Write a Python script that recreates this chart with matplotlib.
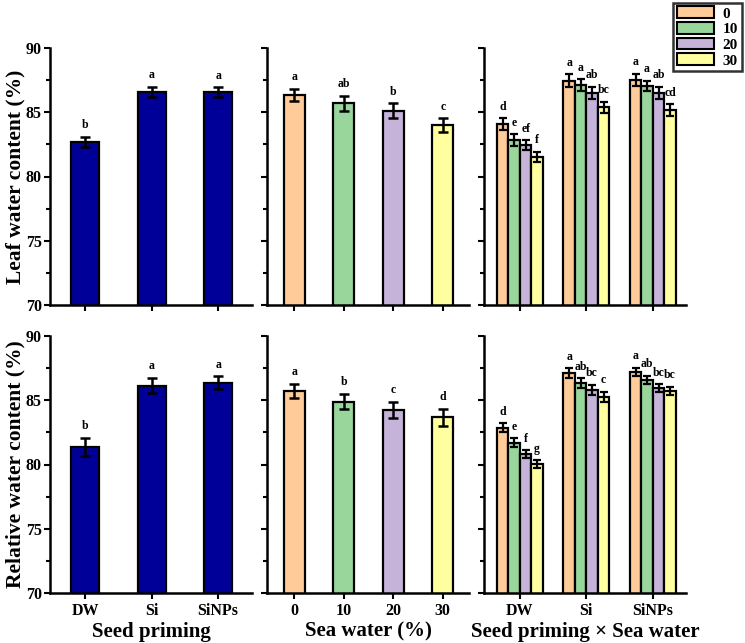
import matplotlib
matplotlib.use("Agg")
from matplotlib import pyplot as plt
from matplotlib.patches import Patch
import numpy as np

plt.rcParams['font.family'] = ['Liberation Serif', 'DejaVu Serif']
plt.rcParams['font.weight'] = 'bold'

priming = ["DW", "Si", "SiNPs"]
seawater = ["0", "10", "20", "30"]

# leaf water content
lwc_prim = [82.7, 86.6, 86.55]
lwc_prim_err = [0.39, 0.4, 0.38]
lwc_prim_let = ["b", "a", "a"]
lwc_sea = [86.34, 85.7, 85.12, 84.0]
lwc_sea_err = [0.48, 0.58, 0.58, 0.53]
lwc_sea_let = ["a", "ab", "b", "c"]
lwc_int = [[84.09, 82.84, 82.43, 81.54],
           [87.46, 87.12, 86.52, 85.38],
           [87.51, 87.04, 86.52, 85.17]]
lwc_int_err = [[0.45, 0.45, 0.4, 0.4],
               [0.48, 0.45, 0.45, 0.42],
               [0.48, 0.42, 0.45, 0.45]]
lwc_int_let = [["d", "e", "ef", "f"],
               ["a", "a", "ab", "bc"],
               ["a", "a", "ab", "cd"]]

# relative water content
rwc_prim = [81.39, 86.13, 86.37]
rwc_prim_err = [0.69, 0.6, 0.5]
rwc_prim_let = ["b", "a", "a"]
rwc_sea = [85.72, 84.89, 84.24, 83.67]
rwc_sea_err = [0.57, 0.6, 0.65, 0.66]
rwc_sea_let = ["a", "b", "c", "d"]
rwc_int = [[82.87, 81.7, 80.82, 80.01],
           [87.1, 86.32, 85.8, 85.28],
           [87.18, 86.58, 85.93, 85.72]]
rwc_int_err = [[0.34, 0.33, 0.3, 0.32],
               [0.39, 0.39, 0.39, 0.4],
               [0.33, 0.32, 0.32, 0.33]]
rwc_int_let = [["d", "e", "f", "g"],
               ["a", "ab", "bc", "c"],
               ["a", "ab", "bc", "bc"]]

navy = "#000099"
sea_colors = ["#FFCC99", "#99D69B", "#C5B3D9", "#FFFF9F"]

fig = plt.figure(figsize=(7.45, 6.43), dpi=100)

lefts = [50/745, 267/745, 484/745]
w = 202/745
h = 257/643
bottoms = [1 - 305/643, 1 - 593/643]

err_kw = dict(ecolor='black', elinewidth=1.8, capsize=3.5, capthick=1.8)


def style_ax(ax, show_y):
    ax.set_ylim(70, 90)
    ax.set_yticks([70, 75, 80, 85, 90])
    ax.set_yticks([72.5, 77.5, 82.5, 87.5], minor=True)
    for s in ['top', 'right']:
        ax.spines[s].set_visible(False)
    for s in ['left', 'bottom']:
        ax.spines[s].set_linewidth(1.8)
    ax.tick_params(axis='both', which='major', direction='out', width=1.5, length=4)
    ax.tick_params(axis='y', which='minor', direction='out', width=1.5, length=3)
    ax.tick_params(axis='y', labelsize=11.5, pad=2)
    ax.tick_params(axis='x', labelsize=11.5, pad=3)
    if not show_y:
        ax.set_yticklabels([])


def letters(ax, xs, tops, labs):
    for x, t, l in zip(xs, tops, labs):
        ax.annotate(l, (x, t), xytext=(0, 4), textcoords='offset points',
                    ha='center', va='bottom', fontsize=8.5, fontweight='bold')


rows = [(lwc_prim, lwc_prim_err, lwc_prim_let, lwc_sea, lwc_sea_err, lwc_sea_let,
         lwc_int, lwc_int_err, lwc_int_let, "Leaf water content (%)"),
        (rwc_prim, rwc_prim_err, rwc_prim_let, rwc_sea, rwc_sea_err, rwc_sea_let,
         rwc_int, rwc_int_err, rwc_int_let, "Relative water content (%)")]

for r, row in enumerate(rows):
    p, pe, pl, s, se, sl, it, ie, il, ylab = row
    bottom = bottoms[r]
    last = (r == 1)

    # panel 1: seed priming
    ax1 = fig.add_axes([lefts[0], bottom, w, h])
    x = np.arange(len(priming))
    ax1.bar(x, p, width=0.42, color=navy, edgecolor='black', linewidth=1.6,
            yerr=pe, error_kw=err_kw, zorder=2)
    letters(ax1, x, np.array(p) + np.array(pe), pl)
    ax1.set_xlim(-0.53, 2.51)
    ax1.set_xticks(x)
    style_ax(ax1, True)
    ax1.set_ylabel(ylab, fontsize=15.5, fontweight='bold')
    ax1.yaxis.set_label_coords(-0.122, 0.5)
    if last:
        ax1.set_xticklabels(priming)
        ax1.set_xlabel("Seed priming", fontsize=15, fontweight='bold', labelpad=2)
    else:
        ax1.set_xticklabels([])

    # panel 2: sea water
    ax2 = fig.add_axes([lefts[1], bottom, w, h])
    x = np.arange(len(seawater))
    ax2.bar(x, s, width=0.42, color=sea_colors, edgecolor='black', linewidth=1.6,
            yerr=se, error_kw=err_kw, zorder=2)
    letters(ax2, x, np.array(s) + np.array(se), sl)
    ax2.set_xlim(-0.55, 3.53)
    ax2.set_xticks(x)
    style_ax(ax2, False)
    if last:
        ax2.set_xticklabels(seawater)
        ax2.set_xlabel("Sea water (%)", fontsize=15, fontweight='bold', labelpad=2)
    else:
        ax2.set_xticklabels([])

    # panel 3: interaction
    ax3 = fig.add_axes([lefts[2], bottom, w, h])
    x = np.arange(len(priming))
    bw = 0.173
    vals = np.array(it)
    errs = np.array(ie)
    for j in range(len(seawater)):
        xs = x + (j - 1.5) * bw
        ax3.bar(xs, vals[:, j], width=bw, color=sea_colors[j], edgecolor='black',
                linewidth=1.6, yerr=errs[:, j], error_kw=dict(ecolor='black', elinewidth=1.6,
                capsize=2.8, capthick=1.6), zorder=2)
        letters(ax3, xs, vals[:, j] + errs[:, j], [il[i][j] for i in range(len(priming))])
    ax3.set_xlim(-0.54, 2.5)
    ax3.set_xticks(x)
    style_ax(ax3, False)
    if last:
        ax3.set_xticklabels(priming)
        ax3.set_xlabel("Seed priming \u00d7 Sea water", fontsize=15, fontweight='bold', labelpad=2)
    else:
        ax3.set_xticklabels([])

handles = [Patch(facecolor=c, edgecolor='black', linewidth=1.5) for c in sea_colors]
leg = fig.legend(handles, seawater, loc='upper right', bbox_to_anchor=(0.996, 0.996),
                 prop={'weight': 'bold', 'size': 11}, frameon=True, fancybox=False,
                 handlelength=2.4, handleheight=0.8, handletextpad=0.6,
                 borderpad=0.25, labelspacing=0.1, borderaxespad=0.0)
leg.get_frame().set_edgecolor('black')
leg.get_frame().set_linewidth(1.8)

fig.savefig("out.png", dpi=100)
